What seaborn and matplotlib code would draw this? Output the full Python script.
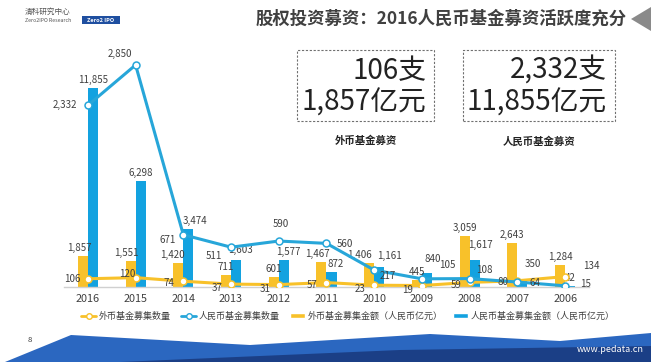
import numpy as np
import pandas as pd
import matplotlib
matplotlib.use("Agg")
import matplotlib.pyplot as plt
import seaborn as sns
from matplotlib.patches import Polygon, Rectangle, Patch
from matplotlib.lines import Line2D

# ---------------- data ----------------
years = ["2016", "2015", "2014", "2013", "2012", "2011", "2010", "2009", "2008", "2007", "2006"]
rmb_amount = [11855, 6298, 3474, 1603, 1577, 872, 1161, 840, 1617, 350, 42]        # 人民币基金募集金额（人民币亿元）
foreign_amount = [1857, 1551, 1420, 711, 601, 1467, 1406, 445, 3059, 2643, 1284]   # 外币基金募集金额（人民币亿元）
rmb_count = [2332, 2850, 671, 511, 590, 560, 217, 105, 108, 64, 15]                # 人民币基金募集数量
foreign_count = [106, 120, 74, 37, 31, 57, 23, 19, 59, 80, 134]                    # 外币基金募集数量

lab_rmb_amt = "人民币基金募集金额（人民币亿元）"
lab_for_amt = "外币基金募集金额（人民币亿元）"
lab_rmb_cnt = "人民币基金募集数量"
lab_for_cnt = "外币基金募集数量"

title = "股权投资募资：2016人民币基金募资活跃度充分"

# ---------------- style ----------------
sns.set_style("white")
plt.rcParams['font.family'] = ['Noto Sans CJK SC', 'DejaVu Sans']

BLUE = "#13a2e0"
LBLUE = "#27a6d9"
YEL = "#f8c12a"
TXT = "#404040"

W, H = 651, 362
fig = plt.figure(figsize=(W / 100, H / 100), dpi=100)

def fx(x):
    return x / W

def fy(y):
    return 1 - y / H

ax = fig.add_axes([fx(64), fy(287), fx(589) - fx(64), fy(60) - fy(287)])

df = pd.DataFrame({
    "year": years * 2,
    "amount": foreign_amount + rmb_amount,
    "type": [lab_for_amt] * len(years) + [lab_rmb_amt] * len(years),
})
sns.barplot(data=df, x="year", y="amount", hue="type", order=years,
            hue_order=[lab_for_amt, lab_rmb_amt], palette=[YEL, BLUE],
            width=0.44, saturation=1, legend=False, ax=ax, linewidth=0)
ax.set_ylim(0, 13500)
ax.set_xlim(-0.5, len(years) - 0.5)
# widen each bar so the pair touches (about 10 px each)
for cont, side in zip(ax.containers, (-1, 1)):
    for bar in cont:
        c = bar.get_x() + (bar.get_width() / 2)
        w = 0.21
        grp = round(c)
        bar.set_x(grp + (0 if side > 0 else -w))
        bar.set_width(w)

# bar labels
for_dx = [-4, -4, -6, 0, 0, -4, -10, 0, 0, 0, 0]
for_dy = [3, 3, 3, 3, 3, 3, 3, 3, 3, 3, 3]
rmb_dx = [0, 0, 7, 4, 4, 4, 10, 6, 6, 10, 0]
rmb_dy = [3, 3, 3, 5, 3, 3, 6, 9, 10, 12, 3]
for cont, vals, dxs, dys in zip(ax.containers, [foreign_amount, rmb_amount], [for_dx, rmb_dx], [for_dy, rmb_dy]):
    for bar, v, dx, dy in zip(cont, vals, dxs, dys):
        ax.annotate(f"{v:,}", (bar.get_x() + bar.get_width() / 2, bar.get_height()),
                    xytext=(dx, dy), textcoords="offset pixels", ha="center", va="bottom",
                    fontsize=7.0, color=TXT)

# lines
ax2 = ax.twinx()
xpos = np.arange(len(years))
sns.lineplot(x=xpos, y=foreign_count, ax=ax2, color=YEL, lw=2.2, marker="o", markersize=5,
             markerfacecolor="white", markeredgecolor=YEL, markeredgewidth=1.1)
sns.lineplot(x=xpos, y=rmb_count, ax=ax2, color=LBLUE, lw=2.2, marker="o", markersize=5,
             markerfacecolor="white", markeredgecolor=LBLUE, markeredgewidth=1.1)
ax2.set_ylim(0, 2914)
ax2.set_xlim(-0.5, len(years) - 0.5)

rmb_off = [(-23, 0), (-16, 11), (-16, -5), (-17, -9), (2, 17), (18, -1), (14, -6), (25, 14), (15, 9), (18, -1), (20, 2)]
for x, v, (dx, dy) in zip(xpos, rmb_count, rmb_off):
    ax2.annotate(f"{v:,}", (x, v), xytext=(dx, dy), textcoords="offset pixels",
                 ha="center", va="center", fontsize=7.0, color=TXT)
for_off = [(-16, 0), (-8, 4), (-14, -2), (-14, -4), (-14, -4), (-14, -2), (-14, -4), (-14, -4), (-14, -3), (-14, -1), (26, 11)]
for x, v, (dx, dy) in zip(xpos, foreign_count, for_off):
    ax2.annotate(f"{v:,}", (x, v), xytext=(dx, dy), textcoords="offset pixels",
                 ha="center", va="center", fontsize=7.0, color=TXT)

for a in (ax, ax2):
    for s in ("top", "left", "right"):
        a.spines[s].set_visible(False)
    a.set_ylabel("")
    a.set_xlabel("")
    a.set_yticks([])
ax2.spines["bottom"].set_visible(False)
ax.spines["bottom"].set_color("#d0d0d0")
ax.spines["bottom"].set_linewidth(1.0)
ax.set_xticks(xpos)
ax.set_xticklabels(years, fontsize=7.8, color=TXT)
ax.set_xticks(np.arange(-0.5, len(years), 1), minor=True)
ax.tick_params(axis="x", which="major", length=0, pad=5)
ax.tick_params(axis="x", which="minor", length=3, direction="in", color="#d0d0d0")

# legend
handles = [
    Line2D([], [], color=YEL, lw=2, marker="o", markersize=4, markerfacecolor="white", markeredgecolor=YEL),
    Line2D([], [], color=LBLUE, lw=2, marker="o", markersize=4, markerfacecolor="white", markeredgecolor=LBLUE),
    Patch(facecolor=YEL),
    Patch(facecolor=BLUE),
]
fig.legend(handles, [lab_for_cnt, lab_rmb_cnt, lab_for_amt, lab_rmb_amt], ncol=4, loc="center",
           bbox_to_anchor=(fx(348), fy(316)), frameon=False, fontsize=6.5, handlelength=1.6,
           handleheight=0.6, columnspacing=1.2, handletextpad=0.3, labelcolor=TXT)

# ---------------- header ----------------
fig.text(fx(627), fy(19), title, ha="right", va="center", fontsize=12.5, fontweight="bold", color=TXT)
fig.add_artist(Polygon([(fx(651), fy(7)), (fx(631), fy(19)), (fx(651), fy(31))], closed=True,
                       transform=fig.transFigure, facecolor="#8a8a8a", edgecolor="none"))
fig.text(fx(48), fy(12), "清科研究中心", ha="center", va="center", fontsize=5.5, color="#555555")
fig.text(fx(48), fy(21), "Zero2IPO Research", ha="center", va="center", fontsize=3.8, color="#555555")
fig.add_artist(Rectangle((fx(82), fy(24)), fx(38), fy(16) - fy(24), transform=fig.transFigure,
                         facecolor="#1f4fa0", edgecolor="none"))
fig.text(fx(101), fy(20), "Zero2 IPO", ha="center", va="center", fontsize=4, color="white", fontweight="bold")

# ---------------- summary boxes ----------------
def box(x0, x1, l1, l2, caption):
    fig.add_artist(Rectangle((fx(x0), fy(121)), fx(x1) - fx(x0), fy(50) - fy(121),
                             transform=fig.transFigure, facecolor="none", edgecolor="#707070",
                             linestyle=(0, (2, 1.5)), linewidth=0.8))
    fig.text(fx(x1 - 8), fy(71), l1, ha="right", va="center", fontsize=20, color="#222222")
    fig.text(fx(x1 - 8), fy(103), l2, ha="right", va="center", fontsize=20, color="#222222")
    fig.text(fx((x0 + x1) / 2), fy(141), caption, ha="center", va="center", fontsize=7.5,
             fontweight="bold", color="#222222")

box(463, 615, f"{rmb_count[0]:,}支", f"{rmb_amount[0]:,}亿元", "人民币基金募资")
box(297, 434, f"{foreign_count[0]:,}支", f"{foreign_amount[0]:,}亿元", "外币基金募资")

# ---------------- footer ----------------
wave = [(0, 362), (5, 362), (71, 335), (250, 345), (430, 334), (560, 341), (651, 333), (651, 362)]
fig.add_artist(Polygon([(fx(x), fy(y)) for x, y in wave], closed=True, transform=fig.transFigure,
                       facecolor="#2b67c0", edgecolor="none"))
dark = [(120, 362), (400, 350), (651, 346), (651, 362)]
fig.add_artist(Polygon([(fx(x), fy(y)) for x, y in dark], closed=True, transform=fig.transFigure,
                       facecolor="#1b3f86", edgecolor="none"))
fig.text(fx(30), fy(340), "8", ha="center", va="center", fontsize=5.5, color="#333333")
fig.text(fx(610), fy(350), "www.pedata.cn", ha="center", va="center", fontsize=6.5, color="white")

fig.savefig("out.png", dpi=100)
